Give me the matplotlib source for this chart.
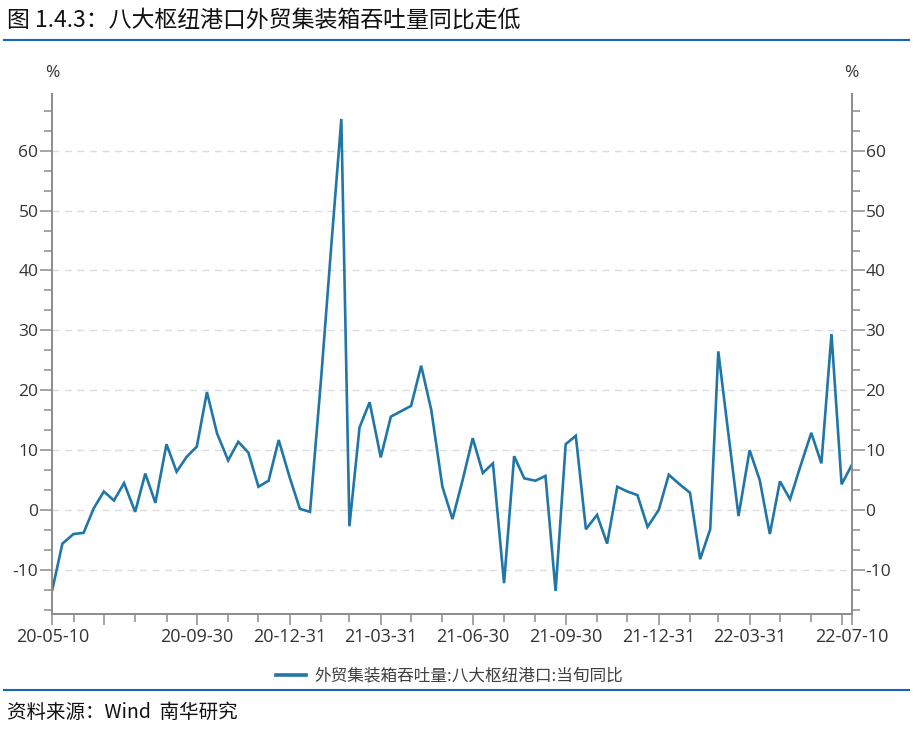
import matplotlib
matplotlib.use("Agg")
import matplotlib.pyplot as plt
from matplotlib.lines import Line2D
import pandas as pd
import numpy as np

plt.rcParams['font.family'] = ['Noto Sans CJK SC', 'DejaVu Sans']

# ---- data ----
dates = [
    "2020-05-10", "2020-05-20", "2020-05-31", "2020-06-10", "2020-06-20", "2020-06-30",
    "2020-07-10", "2020-07-20", "2020-07-31", "2020-08-10", "2020-08-20", "2020-08-31",
    "2020-09-10", "2020-09-20", "2020-09-30", "2020-10-10", "2020-10-20", "2020-10-31",
    "2020-11-10", "2020-11-20", "2020-11-30", "2020-12-10", "2020-12-20", "2020-12-31",
    "2021-01-10", "2021-01-20", "2021-01-31", "2021-02-10", "2021-02-20", "2021-02-28",
    "2021-03-10", "2021-03-20", "2021-03-31", "2021-04-10", "2021-04-20", "2021-04-30",
    "2021-05-10", "2021-05-20", "2021-05-31", "2021-06-10", "2021-06-20", "2021-06-30",
    "2021-07-10", "2021-07-20", "2021-07-31", "2021-08-10", "2021-08-20", "2021-08-31",
    "2021-09-10", "2021-09-20", "2021-09-30", "2021-10-10", "2021-10-20", "2021-10-31",
    "2021-11-10", "2021-11-20", "2021-11-30", "2021-12-10", "2021-12-20", "2021-12-31",
    "2022-01-10", "2022-01-20", "2022-01-31", "2022-02-10", "2022-02-20", "2022-02-28",
    "2022-03-10", "2022-03-20", "2022-03-31", "2022-04-10", "2022-04-20", "2022-04-30",
    "2022-05-10", "2022-05-20", "2022-05-31", "2022-06-10", "2022-06-20", "2022-06-30",
    "2022-07-10",
]
yoy = [
    -13.3, -5.6, -4.0, -3.8, 0.3, 3.1,
    1.6, 4.5, -0.3, 6.1, 1.2, 11.0,
    6.4, 8.9, 10.6, 19.7, 12.8, 8.3,
    11.4, 9.6, 3.9, 4.9, 11.7, 5.4,
    0.2, -0.3, 22.0, 44.0, 65.3, -2.7,
    13.8, 18.0, 8.8, 15.6, 16.5, 17.4,
    24.1, 16.7, 3.9, -1.5, 5.0, 12.0,
    6.2, 7.8, -12.2, 9.0, 5.3, 4.9,
    5.7, -13.5, 11.0, 12.4, -3.2, -0.8,
    -5.6, 3.9, 3.1, 2.5, -2.8, 0.0,
    5.9, 4.4, 2.9, -8.2, -3.2, 26.5,
    12.7, -1.0, 10.0, 5.0, -4.0, 4.8,
    1.8, 7.2, 12.9, 7.8, 29.4, 4.3,
    7.5,
]
series_name = "外贸集装箱吞吐量:八大枢纽港口:当旬同比"
title = "图 1.4.3：八大枢纽港口外贸集装箱吞吐量同比走低"
source = "资料来源：Wind  南华研究"
xtick_dates = ["2020-05-10", "2020-06-30", "2020-09-30", "2020-12-31", "2021-03-31",
               "2021-06-30", "2021-09-30", "2021-12-31", "2022-03-31", "2022-06-30",
               "2022-07-10"]
xtick_labels = ["20-05-10", "", "20-09-30", "20-12-31", "21-03-31",
                "21-06-30", "21-09-30", "21-12-31", "22-03-31", "", "22-07-10"]
ytick_vals = [-10, 0, 10, 20, 30, 40, 50, 60]

# ---- figure ----
W, H = 913, 734
fig = plt.figure(figsize=(W / 100, H / 100), dpi=100)
L, R, T, B = 52.3, 851.7, 94.4, 614.3
ax = fig.add_axes([L / W, 1 - B / H, (R - L) / W, (B - T) / H])

x = pd.to_datetime(dates)
line_color = "#2176A8"
ax.plot(x, yoy, color=line_color, lw=1.9, solid_joinstyle='miter')

axis_gray = "#8c8c8c"
text_col = "#333333"

# y ticks
ax.set_yticks(ytick_vals)
ax.set_yticks(np.arange(-50, 71, 10 / 3), minor=True)
ax.set_yticklabels([str(v) for v in ytick_vals])
for v in ytick_vals:
    ax.axhline(v, color="#dcdcdc", lw=1.0, ls=(0, (5, 4)), zorder=0)

# x ticks
ax.set_xticks(pd.to_datetime(xtick_dates))
ax.set_xticklabels(xtick_labels)
minor_x = pd.date_range("2020-05-31", "2022-06-30", freq="ME")
ax.set_xticks(minor_x, minor=True)

ax.set_xlim(pd.Timestamp("2020-05-10"), pd.Timestamp("2022-07-10"))
ax.set_ylim(-17.4, 69.4)

ax.spines["top"].set_visible(False)
for sp in ["left", "right", "bottom"]:
    ax.spines[sp].set_color(axis_gray)
    ax.spines[sp].set_linewidth(1.4)

ax.tick_params(axis="y", which="major", direction="out", length=9, width=1.1,
               color=axis_gray, labelsize=12.5, labelcolor=text_col, pad=1,
               left=True, right=True, labelleft=True, labelright=True)
ax.tick_params(axis="y", which="minor", direction="out", length=5.5, width=1.1,
               color=axis_gray, left=True, right=True)
ax.tick_params(axis="x", which="major", direction="out", length=8, width=1.1,
               color=axis_gray, labelsize=13, labelcolor=text_col, pad=2)
ax.tick_params(axis="x", which="minor", direction="out", length=5.5, width=1.1,
               color=axis_gray)
for lab in ax.get_xticklabels() + ax.get_yticklabels():
    lab.set_fontfamily(['Open Sans', 'DejaVu Sans'])

# % labels
fig.text(52 / W, 1 - 73 / H, "%", ha="center", va="center", fontsize=12.5,
         color=text_col, family=['Open Sans', 'DejaVu Sans'])
fig.text(851 / W, 1 - 73 / H, "%", ha="center", va="center", fontsize=12.5,
         color=text_col, family=['Open Sans', 'DejaVu Sans'])

# title and separators
fig.text(7 / W, 1 - 20 / H, title, ha="left", va="center", fontsize=16.5, color="#111111")
fig.add_artist(Line2D([4 / W, 909 / W], [1 - 40 / H, 1 - 40 / H], color="#1565C0", lw=1.5))
fig.add_artist(Line2D([4 / W, 909 / W], [1 - 690 / H, 1 - 690 / H], color="#1565C0", lw=1.5))
fig.text(7 / W, 1 - 712 / H, source, ha="left", va="center", fontsize=14, color="#111111")

# legend
handle = Line2D([], [], color=line_color, lw=2.6)
fig.legend([handle], [series_name], loc="center", bbox_to_anchor=(450 / W, 1 - 676 / H),
           frameon=False, fontsize=12, handlelength=1.8, handletextpad=0.5,
           labelcolor="#404040")

fig.savefig("out.png", dpi=100)
